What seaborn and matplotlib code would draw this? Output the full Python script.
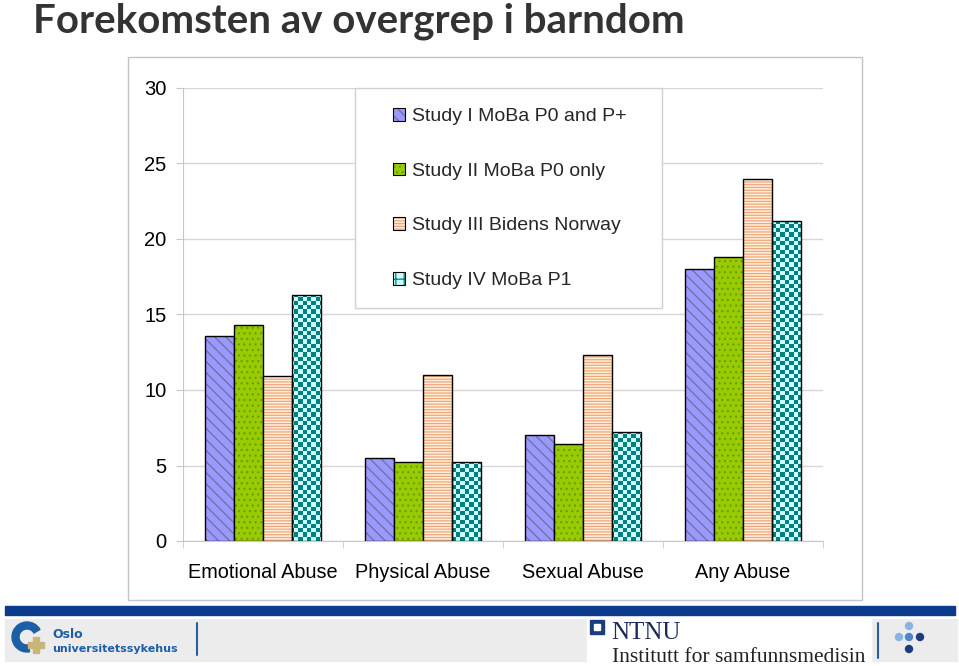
import numpy as np
import pandas as pd
import matplotlib
matplotlib.use("Agg")
import matplotlib.pyplot as plt
import matplotlib.patches as mpatches
from matplotlib.lines import Line2D
from matplotlib.colors import ListedColormap, to_rgba
import seaborn as sns

# Data
categories = ["Emotional Abuse", "Physical Abuse", "Sexual Abuse", "Any Abuse"]
studies = ["Study I MoBa P0 and P+", "Study II MoBa P0 only",
           "Study III Bidens Norway", "Study IV MoBa P1"]
study_1 = [13.6, 5.5, 7.0, 18.0]
study_2 = [14.3, 5.2, 6.4, 18.8]
study_3 = [10.9, 11.0, 12.3, 24.0]
study_4 = [16.3, 5.2, 7.2, 21.2]
y_ticks = [0, 5, 10, 15, 20, 25, 30]

face_colors = ["#9999FF", "#99CC00", "#FFF0DA", "#CCFFFF"]
hatch_colors = ["#6E6E9E", "#6E9E00", "#EEA67C", "#008080"]
hatches = ["\\\\\\", "...", "------", None]

df = pd.DataFrame({
    "category": categories * 4,
    "study": [s for s in studies for _ in categories],
    "value": study_1 + study_2 + study_3 + study_4,
})

sns.set_style("white")
plt.rcParams["font.family"] = ["Liberation Sans", "DejaVu Sans"]
plt.rcParams["hatch.linewidth"] = 0.9

fig = plt.figure(figsize=(9.59, 6.66), dpi=100)
W, H = 959, 666
T = fig.dpi_scale_trans


def px(x, y):
    # pixel position (from top-left) -> inches for dpi_scale_trans
    return (x / 100, (H - y) / 100)


# outer chart box
fig.add_artist(mpatches.Rectangle((128 / W, 1 - 600 / H), 734 / W, 543 / H,
                                  transform=fig.transFigure, facecolor="white",
                                  edgecolor="#c4c4c4", linewidth=1, zorder=-1))

ax = fig.add_axes([183 / W, 1 - 541 / H, 640 / W, 453 / H])
ax.patch.set_alpha(0)

sns.barplot(data=df, x="category", y="value", hue="study", order=categories,
            hue_order=studies, palette=face_colors, width=0.73, saturation=1,
            edgecolor="black", linewidth=1.0, errorbar=None, legend=False, ax=ax)

for i, cont in enumerate(ax.containers):
    for p in cont:
        if hatches[i]:
            p.set_hatch(hatches[i])
            p._hatch_color = to_rgba(hatch_colors[i])

# checkerboard texture for study IV
checker = np.indices((106, 150)).sum(axis=0) % 2
for p in ax.containers[3]:
    p.set_facecolor("none")
    im = ax.imshow(checker, cmap=ListedColormap(["#CCFFFF", "#008080"]),
                   extent=(-0.5, 3.5, 0, 30), aspect="auto", origin="lower",
                   interpolation="nearest", zorder=p.get_zorder() - 0.1)
    im.set_clip_path(p)

ax.set_xlim(-0.5, 3.5)
ax.set_ylim(0, 30)
ax.set_yticks(y_ticks)
ax.set_xticks(np.arange(-0.5, 4, 1), minor=True)
ax.yaxis.grid(True, color="#d6d6d6", linewidth=1)
ax.set_axisbelow(True)
for s in ["top", "right"]:
    ax.spines[s].set_visible(False)
for s in ["left", "bottom"]:
    ax.spines[s].set_color("#c8c8c8")
ax.tick_params(axis="y", left=True, length=5, color="#c8c8c8", pad=7,
               labelsize=14.5, labelcolor="black")
ax.tick_params(axis="x", which="major", bottom=True, length=0, pad=16,
               labelsize=14.3, labelcolor="black")
ax.tick_params(axis="x", which="minor", bottom=True, length=5, color="#c8c8c8")
ax.set_xlabel("")
ax.set_ylabel("")

# legend with its own frame
ax.add_patch(mpatches.Rectangle((355 / W, 1 - 308 / H), 307 / W, 220 / H,
                                transform=fig.transFigure, facecolor="white",
                                edgecolor="#d0d0d0", linewidth=1, zorder=3,
                                clip_on=False))
handles = []
for i in range(4):
    h = mpatches.Patch(facecolor=face_colors[i], edgecolor="black", linewidth=0.8,
                       hatch=hatches[i] if hatches[i] else "++")
    h._hatch_color = to_rgba(hatch_colors[i])
    handles.append(h)
leg = ax.legend(handles, studies, loc="upper left",
                bbox_to_anchor=(393 / W, 1 - 108 / H), bbox_transform=fig.transFigure,
                frameon=False, fontsize=14, handlelength=0.62, handleheight=0.62,
                handletextpad=0.38, labelspacing=1.93, borderpad=0, borderaxespad=0)
leg.set_zorder(5)

# title
fig.text(33 / W, 1 - 2 / H, "Forekomsten av overgrep i barndom", fontsize=29,
         fontweight="bold", family=["Lato", "DejaVu Sans"], color="#333333",
         ha="left", va="top")

# footer
fig.add_artist(mpatches.Rectangle(px(5, 615), 9.50, 0.09, transform=T,
                                  color="#0c3b8e", zorder=1))
fig.add_artist(mpatches.Rectangle(px(5, 661), 9.52, 0.42, transform=T,
                                  color="#ececec", zorder=1))
fig.add_artist(mpatches.Rectangle(px(587, 666), 2.84, 0.47, transform=T,
                                  color="white", zorder=1))
fig.add_artist(mpatches.Wedge(px(27, 637), 0.15, 30, 280, width=0.07, transform=T,
                              color="#1d5fa6", zorder=2))
fig.add_artist(mpatches.Rectangle(px(28, 648), 0.16, 0.06, transform=T,
                                  color="#c9b47c", zorder=3))
fig.add_artist(mpatches.Rectangle(px(33, 653), 0.06, 0.16, transform=T,
                                  color="#c9b47c", zorder=3))
fig.text(*px(52, 635), "Oslo", transform=T, fontsize=9, fontweight="bold",
         family="DejaVu Sans", color="#1d5fa6", va="center", ha="left")
fig.text(*px(52, 649), "universitetssykehus", transform=T, fontsize=8,
         fontweight="bold", family="DejaVu Sans", color="#1d5fa6",
         va="center", ha="left")
fig.add_artist(Line2D([1.97, 1.97], [(H - 623) / 100, (H - 655) / 100], transform=T,
                      color="#2a5ba8", linewidth=1.5))

fig.add_artist(mpatches.Rectangle(px(590, 634), 0.14, 0.14, transform=T,
                                  color="#1a3d7c", zorder=2))
fig.add_artist(mpatches.Rectangle(px(594, 630), 0.06, 0.06, transform=T,
                                  color="white", zorder=3))
fig.text(*px(611, 639), "NTNU", transform=T, fontsize=18, family="Liberation Serif",
         color="#1b2a5a", va="baseline", ha="left")
fig.text(*px(612, 662), "Institutt for samfunnsmedisin", transform=T, fontsize=15.5,
         family="Liberation Serif", color="#222222", va="baseline", ha="left")
fig.add_artist(Line2D([8.78, 8.78], [(H - 623) / 100, (H - 658) / 100], transform=T,
                      color="#2a5ba8", linewidth=1.5))
for (cx, cy), c in zip([(909, 626), (899, 637), (909, 637), (920, 637), (909, 649)],
                       ["#8ab4e0", "#8ab4e0", "#4f86c6", "#1a3d7c", "#1a3d7c"]):
    fig.add_artist(mpatches.Circle(px(cx, cy), 0.035, transform=T, color=c, zorder=2))

fig.savefig("out.png", dpi=100)
